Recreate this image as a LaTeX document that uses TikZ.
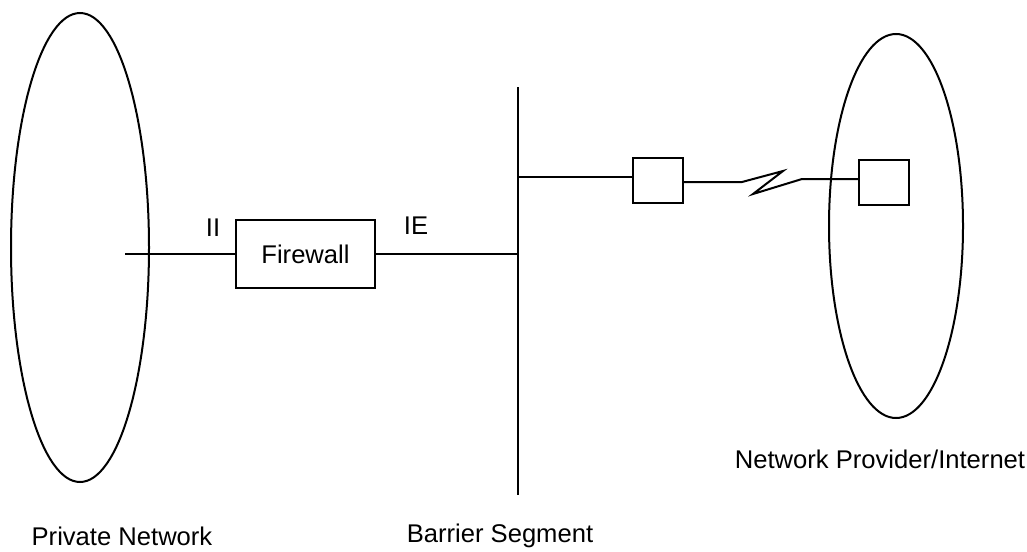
\documentclass[tikz,border=0pt]{standalone}
\usepackage{fontspec}
\setmainfont{Liberation Sans}
\usetikzlibrary{shapes.geometric}

\begin{document}
\begin{tikzpicture}[
      x = 1pt, y = -1pt,
      line width = 2pt,
      font = \fontsize{25.6}{30}\selectfont,
      net/.style={
        draw,
        ellipse,
        inner sep = 0pt,
      },
      box/.style={
        draw,
        rectangle,
        inner sep = 0pt,
      },
      lbl/.style={
        anchor = base,
        inner sep = 0pt,
      },
    ]
    \useasboundingbox (0,0) rectangle (1027,551);
    % the two clouds
    \node[net, minimum width=138pt, minimum height=469pt] (private) at (80,247.5) {};
    \node[net, minimum width=134pt, minimum height=384pt] (provider) at (896,226) {};
    % firewall and routers
    \node[box, minimum width=139pt, minimum height=68pt] (fw) at (305.5,254) {Firewall};
    \node[box, minimum width=50pt, minimum height=45pt] (rtA) at (658,180.5) {};
    \node[box, minimum width=50pt, minimum height=45pt] (rtB) at (884,182.5) {};
    % barrier segment
    \coordinate (bartop) at (518,87);
    \coordinate (barbot) at (518,495);
    \draw (bartop) -- (barbot);
    % links
    \coordinate (inside) at (125,254);
    \draw (inside) -- (fw.west);
    \draw (fw.east) -- (fw.east -| bartop);
    \coordinate (tap) at (518,177);
    \draw (tap) -- (tap -| rtA.west);
    \coordinate (zA) at (742,182);
    \coordinate (zB) at (783,171);
    \coordinate (zC) at (753,194);
    \coordinate (zD) at (802,179);
    \draw (rtA.east |- zA) -- (zA) -- (zB) -- (zC) -- (zD) -- (zD -| rtB.west);
    % labels
    \node[lbl] (ii) at (213,236) {II};
    \node[lbl] (ie) at (416,234) {IE};
    \node[lbl] (plabel) at (122,545) {Private Network};
    \node[lbl] (blabel) at (500,542) {Barrier Segment};
    \node[lbl] (nlabel) at (880,468) {Network Provider/Internet};
  \end{tikzpicture}
\end{document}
